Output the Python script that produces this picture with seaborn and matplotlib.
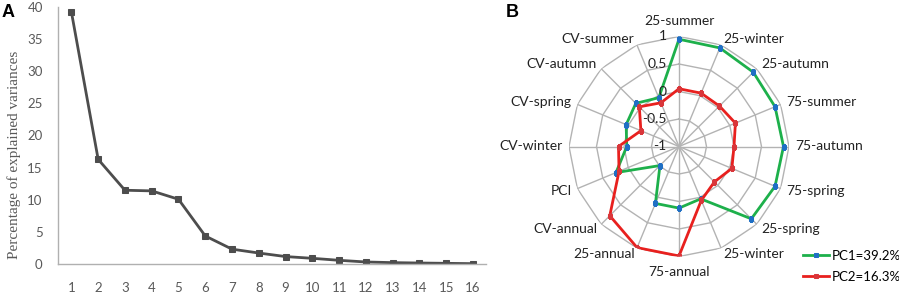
import numpy as np
import matplotlib
matplotlib.use("Agg")
import matplotlib.pyplot as plt
import seaborn as sns

# ---------------- data ----------------
components = list(range(1, 17))
explained = [39.2, 16.3, 11.5, 11.4, 10.1, 4.4, 2.35, 1.75, 1.2, 0.93, 0.62, 0.36, 0.26, 0.2, 0.15, 0.1]
y_ticks = [0, 5, 10, 15, 20, 25, 30, 35, 40]
y_label = "Percentage of explained variances"

radar_labels = ["25-summer", "25-winter", "25-autumn", "75-summer", "75-autumn", "75-spring",
                "25-spring", "25-winter", "75-annual", "25-annual", "CV-annual", "PCI",
                "CV-winter", "CV-spring", "CV-autumn", "CV-summer"]
pc1 = [0.95, 0.94, 0.91, 0.89, 0.90, 0.89, 0.86, 0.03, 0.12, 0.12, -0.51, 0.24, -0.05, 0.04, 0.11, -0.04]
pc2 = [0.05, 0.05, 0.04, 0.11, 0.00, 0.04, -0.09, 0.06, 0.99, 0.99, 0.78, 0.18, 0.10, -0.25, 0.02, -0.14]
series_labels = ["PC1=39.2%", "PC2=16.3%"]
radial_ticks = [-1, -0.5, 0, 0.5, 1]
radial_ticklabels = ["-1", "-0.5", "0", "0.5", "1"]

W, H = 899, 295
fig = plt.figure(figsize=(W / 100, H / 100), dpi=100)
fig.patch.set_facecolor("white")

def fx(px):
    return px / W

def fy(py):
    return 1 - py / H

sans = ["Lato", "DejaVu Sans"]
tick_gray = "#595959"

# ---------------- panel A ----------------
axL = fig.add_axes([fx(58), fy(264.3), fx(486.4) - fx(58), (264.3 - 6.7) / H])
sns.lineplot(x=components, y=explained, ax=axL, color="#4d4d4d", lw=2,
             marker="s", markersize=4, markerfacecolor="#4d4d4d", markeredgecolor="#4d4d4d")
axL.set_xlim(0.5, 16.5)
axL.set_ylim(0, 40)
axL.set_xticks(components)
axL.set_xticklabels([str(c) for c in components])
axL.set_yticks(y_ticks)
axL.set_yticklabels([str(t) for t in y_ticks])
axL.tick_params(axis="both", length=0, labelsize=9.5, labelcolor=tick_gray)
axL.tick_params(axis="x", pad=13)
axL.tick_params(axis="y", pad=11)
for lab in axL.get_xticklabels() + axL.get_yticklabels():
    lab.set_family(sans)
for s in ["top", "right"]:
    axL.spines[s].set_visible(False)
axL.spines["left"].set_color("#b0b0b0")
axL.spines["bottom"].set_color("#b0b0b0")
axL.spines["left"].set_linewidth(1)
axL.spines["bottom"].set_linewidth(1)
axL.set_xlabel("")
axL.set_ylabel("")
fig.text(fx(14), fy(155), y_label, rotation=90, ha="center", va="center",
         fontsize=11, family=["Liberation Serif", "DejaVu Serif"], color=tick_gray)
fig.text(fx(2), fy(4), "A", ha="left", va="top", fontsize=13, fontweight="bold",
         family=["Liberation Sans", "DejaVu Sans"])

# ---------------- panel B (radar) ----------------
cx, cy, R = 679, 146.5, 110
axR = fig.add_axes([fx(cx - R), fy(cy + R), 2 * R / W, 2 * R / H], projection="polar")
axR.set_theta_zero_location("N")
axR.set_theta_direction(-1)
axR.set_ylim(-1, 1)
axR.grid(False)
axR.set_xticks([])
axR.set_yticks([])
axR.spines["polar"].set_visible(False)

n = len(radar_labels)
thetas = np.arange(n) * 2 * np.pi / n
th_closed = np.append(thetas, thetas[0] + 2 * np.pi)
grid_c = "#b3b3b3"
for r in radial_ticks[1:]:
    axR.plot(th_closed, [r] * (n + 1), color=grid_c, lw=1, zorder=1)
for th in thetas:
    axR.plot([th, th], [-1, 1], color=grid_c, lw=1, zorder=1)

green, blue, red = "#1db04b", "#1f6fc4", "#e8201e"
sns.lineplot(x=th_closed, y=np.append(pc1, pc1[0]), sort=False, ax=axR, color=green, lw=2,
             marker="s", markersize=3.5, markerfacecolor=blue, markeredgecolor=blue,
             label=series_labels[0], zorder=3)
sns.lineplot(x=th_closed, y=np.append(pc2, pc2[0]), sort=False, ax=axR, color=red, lw=2,
             marker="s", markersize=3.5, markerfacecolor="#d9363a", markeredgecolor="#d9363a",
             label=series_labels[1], zorder=4)
handles, labels = axR.get_legend_handles_labels()
if axR.get_legend() is not None:
    axR.get_legend().remove()
axR.set_xlabel("")
axR.set_ylabel("")
axR.set_ylim(-1, 1)

# radial tick labels along the top spoke
for rv, rl in zip(radial_ticks, radial_ticklabels):
    axR.annotate(rl, xy=(0, rv), xytext=(-9, 0), textcoords="offset points",
                 ha="right", va="center", fontsize=10, family=sans, color="#222222")

# category labels
for th, lab in zip(thetas, radar_labels):
    s, c = np.sin(th), np.cos(th)
    if abs(s) < 1e-6:
        ha = "center"
        va = "bottom" if c > 0 else "top"
        off = (0, 6.5 if c > 0 else -6.5)
    else:
        ha = "left" if s > 0 else "right"
        va = "center"
        off = (4.3 * s, 4.3 * c)
    axR.annotate(lab, xy=(th, 1), xytext=off, textcoords="offset points",
                 ha=ha, va=va, fontsize=10, family=sans, color="#222222",
                 annotation_clip=False)

fig.legend(handles, labels, loc="upper left", bbox_to_anchor=(fx(803), fy(250)),
           frameon=False, handlelength=2.0, handletextpad=0.15,
           labelspacing=0.65, borderpad=0, borderaxespad=0, numpoints=1,
           prop={"family": sans, "size": 9.5})

fig.text(fx(506), fy(4), "B", ha="left", va="top", fontsize=13, fontweight="bold",
         family=["Liberation Sans", "DejaVu Sans"])

fig.savefig("out.png", dpi=100)
